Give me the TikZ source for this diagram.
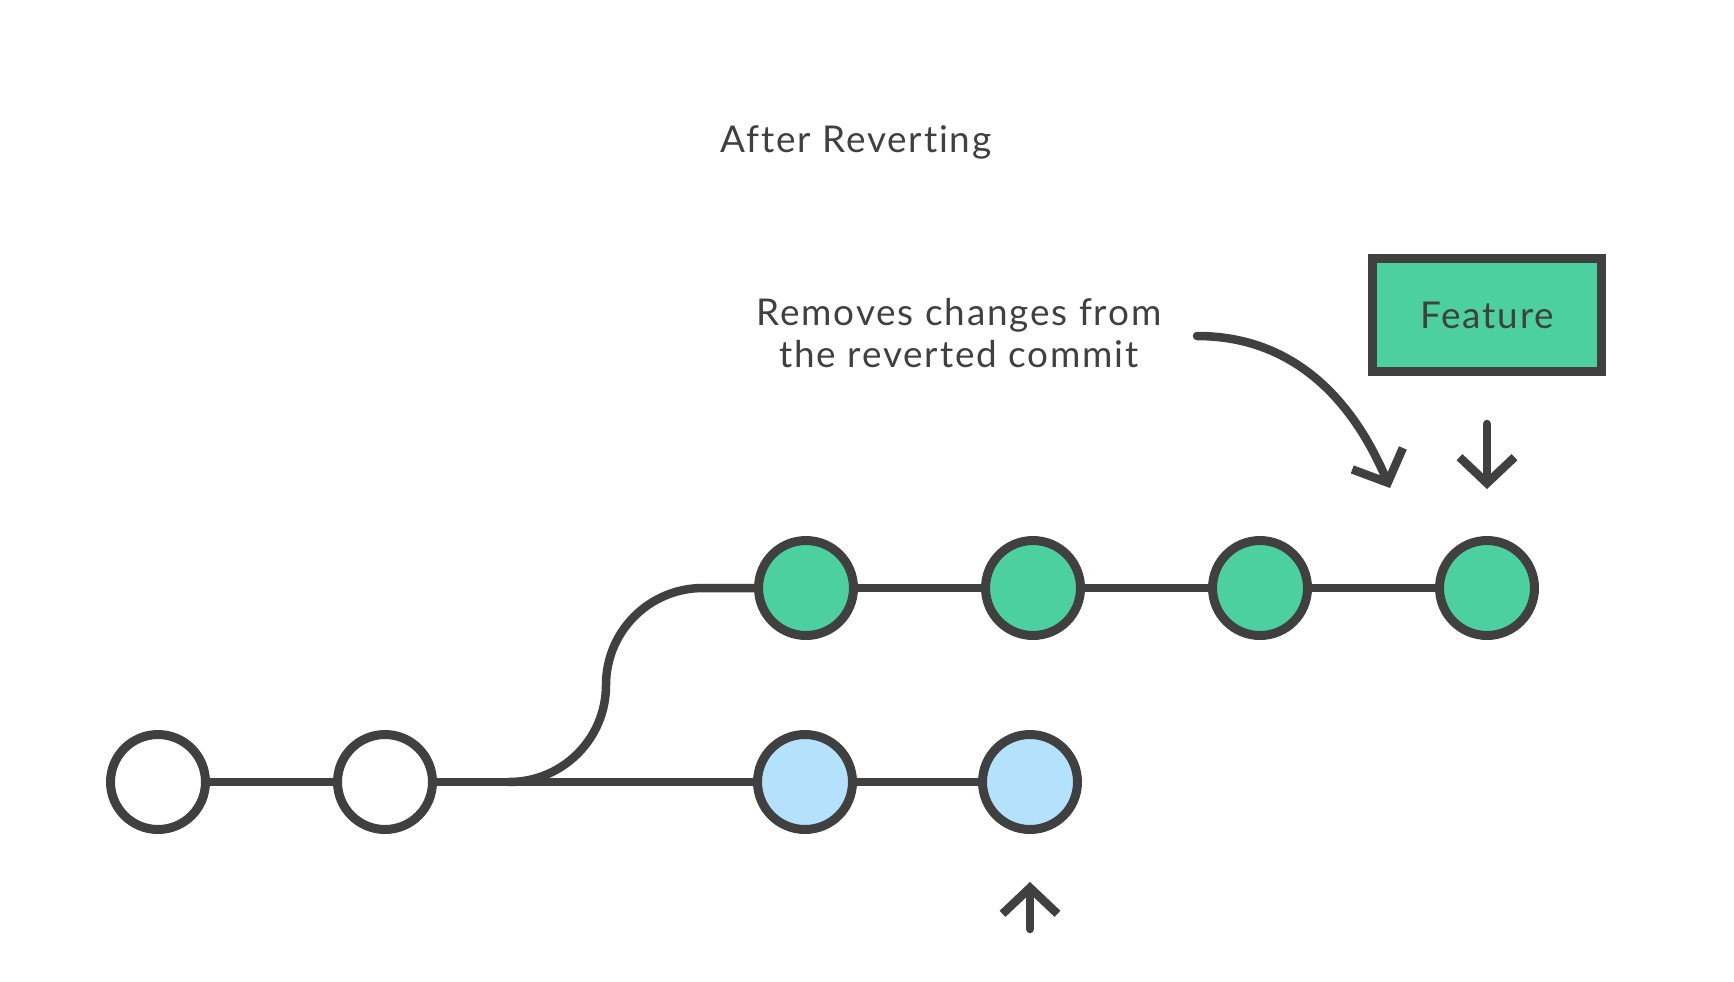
\documentclass[tikz,border=0pt]{standalone}
\usepackage{fontspec}
\setmainfont{Lato}[LetterSpace=5, Ligatures=NoCommon]
\usetikzlibrary{arrows.meta,positioning}
\definecolor{gitdark}{RGB}{64,64,64}
\definecolor{gitgreen}{RGB}{77,208,160}
\definecolor{gitblue}{RGB}{180,226,252}

\begin{document}
\begin{tikzpicture}[x=0.02cm, y=-0.02cm,
  commit/.style={circle, draw=gitdark, line width=0.18cm, minimum size=1.9cm,
    inner sep=0pt, fill=white},
  branch/.style={rectangle, draw=gitdark, line width=0.18cm, minimum width=4.6cm,
    minimum height=2.26cm, fill=gitgreen, text=gitdark, font=\fontsize{21}{25}\selectfont},
  lbl/.style={text=gitdark, align=center, font=\fontsize{21}{23.8}\selectfont},
  edge/.style={draw=gitdark, line width=0.17cm},
  ptr/.style={-{Straight Barb[length=0.52cm,width=1.1cm]}, draw=gitdark,
    line width=0.17cm, line cap=round}
]
\useasboundingbox (0,0) rectangle (1734,981);

% Titles
\node[lbl] (title) at (856,142) {After Reverting};
\node[lbl] (note)  at (959,333) {Removes changes from\\the reverted commit};

% Main line
\node[commit] (b1) at (158,782) {};
\node[commit] (b2) at (385,782) {};
\node[commit, fill=gitblue] (b3) at (805,782) {};
\node[commit, fill=gitblue] (b4) at (1030,782) {};

% Feature line
\node[commit, fill=gitgreen] (t1) at (806,588) {};
\node[commit, fill=gitgreen] (t2) at (1033,588) {};
\node[commit, fill=gitgreen] (t3) at (1260,588) {};
\node[commit, fill=gitgreen] (t4) at (1487,588) {};

\node[branch] (feature) at (1487,315) {Feature};

% Edges
\coordinate (split) at (509,782);
\coordinate (fork)  at (606,685);
\coordinate (merge) at (703,588);
\draw[edge] (b1) -- (b2);
\draw[edge] (b2) -- (b3);
\draw[edge] (b3) -- (b4);
\draw[edge] (split) to[out=0, in=-90] (fork) to[out=90, in=180] (merge) -- (t1);
\draw[edge] (t1) -- (t2);
\draw[edge] (t2) -- (t3);
\draw[edge] (t3) -- (t4);

% Pointers
\coordinate (cs) at (1197,336);
\coordinate (ce) at (1390,488);
\coordinate (hd) at (1030,929);
\draw[ptr] (cs) to[out=0, in=113] (ce);
\draw[ptr, shorten <=0.96cm, shorten >=0.94cm] (feature) -- (t4);
\draw[ptr, shorten >=0.96cm] (hd) -- (b4);

\end{tikzpicture}
\end{document}
